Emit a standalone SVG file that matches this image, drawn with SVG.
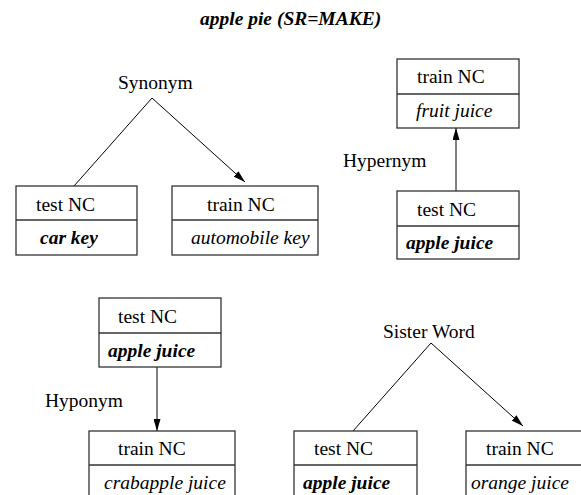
<svg xmlns="http://www.w3.org/2000/svg" width="581" height="495" viewBox="0 0 581 495" font-family="'Liberation Serif', 'Times New Roman', 'DejaVu Serif', serif" font-size="19.5">
<defs>
<marker id="arr" markerUnits="userSpaceOnUse" markerWidth="12" markerHeight="7" refX="12" refY="3.5" orient="auto">
<path d="M0,0 L12,3.5 L0,7 z" fill="#000"/>
</marker>
<style>
text{font-family:'Liberation Serif','Times New Roman','DejaVu Serif',serif;font-size:19.5px;fill:#000}
.b{font-weight:bold;font-style:italic}
.i{font-style:italic}
.box{fill:#fff;stroke:#333;stroke-width:1.3}
.div{stroke:#333;stroke-width:1.3}
.ln{stroke:#000;stroke-width:1;fill:none}
</style>
</defs>
<rect width="581" height="495" fill="#fff"/>
<text id="title" class="b" x="200" y="25">apple pie (SR=MAKE)</text>
<g id="labels">
<text x="118" y="89">Synonym</text>
<text x="343" y="167">Hypernym</text>
<text x="45" y="407">Hyponym</text>
<text x="383" y="338">Sister Word</text>
</g>
<g id="connectors">
<line class="ln" x1="152" y1="98" x2="74" y2="186"/>
<line class="ln" x1="152" y1="98" x2="245" y2="182" marker-end="url(#arr)"/>
<line class="ln" x1="456" y1="191" x2="456" y2="128" marker-end="url(#arr)"/>
<line class="ln" x1="157" y1="367" x2="157" y2="431" marker-end="url(#arr)"/>
<line class="ln" x1="431" y1="343" x2="353" y2="431"/>
<line class="ln" x1="431" y1="343" x2="523" y2="426" marker-end="url(#arr)"/>
</g>
<g id="n-carkey">
<rect class="box" x="16" y="186" width="121" height="69"/>
<line class="div" x1="16" y1="220" x2="137" y2="220"/>
<text x="36" y="211">test NC</text>
<text class="b" x="40" y="244">car key</text>
</g>
<g id="n-automobilekey">
<rect class="box" x="172" y="186" width="146" height="69"/>
<line class="div" x1="172" y1="220" x2="318" y2="220"/>
<text x="207" y="211">train NC</text>
<text class="i" x="191" y="244">automobile key</text>
</g>
<g id="n-fruitjuice">
<rect class="box" x="397" y="59" width="122" height="69"/>
<line class="div" x1="397" y1="94" x2="519" y2="94"/>
<text x="417" y="83">train NC</text>
<text class="i" x="416" y="117">fruit juice</text>
</g>
<g id="n-applejuice1">
<rect class="box" x="397" y="191" width="122" height="68"/>
<line class="div" x1="397" y1="226" x2="519" y2="226"/>
<text x="417" y="216">test NC</text>
<text class="b" x="406" y="249">apple juice</text>
</g>
<g id="n-applejuice2">
<rect class="box" x="99" y="298" width="122" height="69"/>
<line class="div" x1="99" y1="333" x2="221" y2="333"/>
<text x="118" y="323">test NC</text>
<text class="b" x="108" y="357">apple juice</text>
</g>
<g id="n-crabapplejuice">
<rect class="box" x="89" y="431" width="146" height="70"/>
<line class="div" x1="89" y1="465" x2="235" y2="465"/>
<text x="118" y="455">train NC</text>
<text class="i" x="104" y="489">crabapple juice</text>
</g>
<g id="n-applejuice3">
<rect class="box" x="294" y="431" width="123" height="70"/>
<line class="div" x1="294" y1="465" x2="417" y2="465"/>
<text x="314" y="455">test NC</text>
<text class="b" x="303" y="489">apple juice</text>
</g>
<g id="n-orangejuice">
<rect class="box" x="466" y="431" width="146" height="70"/>
<line class="div" x1="466" y1="465" x2="612" y2="465"/>
<text x="486" y="455">train NC</text>
<text class="i" x="471" y="489">orange juice</text>
</g>
</svg>
